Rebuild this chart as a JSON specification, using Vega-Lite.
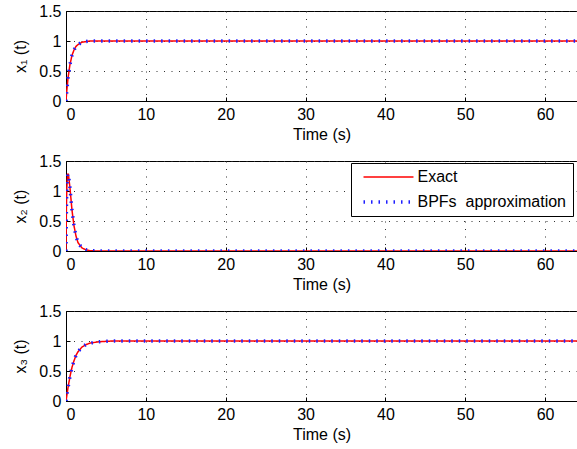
{
  "$schema": "https://vega.github.io/schema/vega-lite/v6.json",
  "padding": {"left": 12, "top": 2, "right": 0, "bottom": 5},
  "datasets": {
    "d": [
      {"k":"x1","s":"Exact","t":0,"v":0},{"k":"x1","s":"Exact","t":0.1,"v":0.17},{"k":"x1","s":"Exact","t":0.25,"v":0.38},{"k":"x1","s":"Exact","t":0.5,"v":0.61},{"k":"x1","s":"Exact","t":0.75,"v":0.76},{"k":"x1","s":"Exact","t":1,"v":0.85},{"k":"x1","s":"Exact","t":1.25,"v":0.91},{"k":"x1","s":"Exact","t":1.5,"v":0.94},{"k":"x1","s":"Exact","t":2,"v":0.98},{"k":"x1","s":"Exact","t":2.5,"v":0.99},{"k":"x1","s":"Exact","t":3,"v":1},{"k":"x1","s":"Exact","t":64,"v":1},
      {"k":"x1","s":"BPFs\u00a0 approximation","t":0,"v":0},{"k":"x1","s":"BPFs\u00a0 approximation","t":0.1,"v":0.17},{"k":"x1","s":"BPFs\u00a0 approximation","t":0.25,"v":0.38},{"k":"x1","s":"BPFs\u00a0 approximation","t":0.5,"v":0.61},{"k":"x1","s":"BPFs\u00a0 approximation","t":0.75,"v":0.76},{"k":"x1","s":"BPFs\u00a0 approximation","t":1,"v":0.85},{"k":"x1","s":"BPFs\u00a0 approximation","t":1.25,"v":0.91},{"k":"x1","s":"BPFs\u00a0 approximation","t":1.5,"v":0.94},{"k":"x1","s":"BPFs\u00a0 approximation","t":2,"v":0.98},{"k":"x1","s":"BPFs\u00a0 approximation","t":2.5,"v":0.99},{"k":"x1","s":"BPFs\u00a0 approximation","t":3,"v":1},{"k":"x1","s":"BPFs\u00a0 approximation","t":64,"v":1},
      {"k":"x2","s":"Exact","t":0,"v":0},{"k":"x2","s":"Exact","t":0.05,"v":0.7},{"k":"x2","s":"Exact","t":0.1,"v":1.05},{"k":"x2","s":"Exact","t":0.2,"v":1.28},{"k":"x2","s":"Exact","t":0.3,"v":1.28},{"k":"x2","s":"Exact","t":0.5,"v":1.05},{"k":"x2","s":"Exact","t":0.75,"v":0.68},{"k":"x2","s":"Exact","t":1,"v":0.42},{"k":"x2","s":"Exact","t":1.25,"v":0.25},{"k":"x2","s":"Exact","t":1.5,"v":0.14},{"k":"x2","s":"Exact","t":2,"v":0.05},{"k":"x2","s":"Exact","t":2.5,"v":0.02},{"k":"x2","s":"Exact","t":3,"v":0.005},{"k":"x2","s":"Exact","t":4,"v":0},{"k":"x2","s":"Exact","t":64,"v":0},
      {"k":"x2","s":"BPFs\u00a0 approximation","t":0,"v":0},{"k":"x2","s":"BPFs\u00a0 approximation","t":0.05,"v":0.7},{"k":"x2","s":"BPFs\u00a0 approximation","t":0.1,"v":1.05},{"k":"x2","s":"BPFs\u00a0 approximation","t":0.2,"v":1.28},{"k":"x2","s":"BPFs\u00a0 approximation","t":0.3,"v":1.28},{"k":"x2","s":"BPFs\u00a0 approximation","t":0.5,"v":1.05},{"k":"x2","s":"BPFs\u00a0 approximation","t":0.75,"v":0.68},{"k":"x2","s":"BPFs\u00a0 approximation","t":1,"v":0.42},{"k":"x2","s":"BPFs\u00a0 approximation","t":1.25,"v":0.25},{"k":"x2","s":"BPFs\u00a0 approximation","t":1.5,"v":0.14},{"k":"x2","s":"BPFs\u00a0 approximation","t":2,"v":0.05},{"k":"x2","s":"BPFs\u00a0 approximation","t":2.5,"v":0.02},{"k":"x2","s":"BPFs\u00a0 approximation","t":3,"v":0.005},{"k":"x2","s":"BPFs\u00a0 approximation","t":4,"v":0},{"k":"x2","s":"BPFs\u00a0 approximation","t":64,"v":0},
      {"k":"x3","s":"Exact","t":0,"v":0},{"k":"x3","s":"Exact","t":0.25,"v":0.22},{"k":"x3","s":"Exact","t":0.5,"v":0.41},{"k":"x3","s":"Exact","t":0.75,"v":0.56},{"k":"x3","s":"Exact","t":1,"v":0.67},{"k":"x3","s":"Exact","t":1.25,"v":0.76},{"k":"x3","s":"Exact","t":1.5,"v":0.82},{"k":"x3","s":"Exact","t":2,"v":0.9},{"k":"x3","s":"Exact","t":2.5,"v":0.94},{"k":"x3","s":"Exact","t":3,"v":0.965},{"k":"x3","s":"Exact","t":4,"v":0.985},{"k":"x3","s":"Exact","t":5,"v":0.995},{"k":"x3","s":"Exact","t":6,"v":1},{"k":"x3","s":"Exact","t":64,"v":1},
      {"k":"x3","s":"BPFs\u00a0 approximation","t":0,"v":0},{"k":"x3","s":"BPFs\u00a0 approximation","t":0.25,"v":0.22},{"k":"x3","s":"BPFs\u00a0 approximation","t":0.5,"v":0.41},{"k":"x3","s":"BPFs\u00a0 approximation","t":0.75,"v":0.56},{"k":"x3","s":"BPFs\u00a0 approximation","t":1,"v":0.67},{"k":"x3","s":"BPFs\u00a0 approximation","t":1.25,"v":0.76},{"k":"x3","s":"BPFs\u00a0 approximation","t":1.5,"v":0.82},{"k":"x3","s":"BPFs\u00a0 approximation","t":2,"v":0.9},{"k":"x3","s":"BPFs\u00a0 approximation","t":2.5,"v":0.94},{"k":"x3","s":"BPFs\u00a0 approximation","t":3,"v":0.965},{"k":"x3","s":"BPFs\u00a0 approximation","t":4,"v":0.985},{"k":"x3","s":"BPFs\u00a0 approximation","t":5,"v":0.995},{"k":"x3","s":"BPFs\u00a0 approximation","t":6,"v":1},{"k":"x3","s":"BPFs\u00a0 approximation","t":64,"v":1}
    ]
  },
  "spacing": 60,
  "bounds": "flush",
  "resolve": {"scale": {"color": "independent", "strokeDash": "independent", "strokeWidth": "independent"}},
  "vconcat": [
    {
      "width": 511, "height": 90,
      "data": {"name": "d"},
      "transform": [{"filter": "datum.k === 'x1'"}],
      "encoding": {
        "x": {"field": "t", "type": "quantitative", "scale": {"domain": [0, 64], "nice": false}, "axis": {"values": [0,10,20,30,40,50,60], "title": "Time (s)"}},
        "y": {"field": "v", "type": "quantitative", "scale": {"domain": [0, 1.5]}, "axis": {"values": [0,0.5,1,1.5], "format": "~g", "title": "x₁ (t)"}},
        "color": {"field": "s", "type": "nominal", "sort": null, "scale": {"domain": ["Exact", "BPFs\u00a0 approximation"], "range": ["#ff0000", "#2020ff"]}, "legend": null},
        "strokeDash": {"field": "s", "type": "nominal", "sort": null, "scale": {"domain": ["Exact", "BPFs\u00a0 approximation"], "range": [[1,0],[1.5,6]]}, "legend": null},
        "strokeWidth": {"field": "s", "type": "nominal", "sort": null, "scale": {"domain": ["Exact", "BPFs\u00a0 approximation"], "range": [1.5, 3.5]}, "legend": null}
      },
      "layer": [
        {"transform": [{"filter": "datum.s === 'Exact'"}], "mark": {"type": "line", "clip": true}},
        {"transform": [{"filter": "datum.s !== 'Exact'"}], "mark": {"type": "line", "clip": true}}
      ]
    },
    {
      "width": 511, "height": 90,
      "data": {"name": "d"},
      "transform": [{"filter": "datum.k === 'x2'"}],
      "encoding": {
        "x": {"field": "t", "type": "quantitative", "scale": {"domain": [0, 64], "nice": false}, "axis": {"values": [0,10,20,30,40,50,60], "title": "Time (s)"}},
        "y": {"field": "v", "type": "quantitative", "scale": {"domain": [0, 1.5]}, "axis": {"values": [0,0.5,1,1.5], "format": "~g", "title": "x₂ (t)"}},
        "color": {"field": "s", "type": "nominal", "sort": null, "scale": {"domain": ["Exact", "BPFs\u00a0 approximation"], "range": ["#ff0000", "#2020ff"]},
          "legend": {"orient": "none", "legendX": 285, "legendY": 2, "title": null, "strokeColor": "black", "fillColor": "white", "padding": 6, "rowPadding": 8, "labelFontSize": 16, "labelFont": "Liberation Sans", "labelColor": "black", "symbolType": "M-3.57,0H3.57", "symbolSize": 196, "symbolOffset": 22.5, "labelOffset": 20}},
        "strokeDash": {"field": "s", "type": "nominal", "sort": null, "scale": {"domain": ["Exact", "BPFs\u00a0 approximation"], "range": [[1,0],[1.5,6]]}},
        "strokeWidth": {"field": "s", "type": "nominal", "sort": null, "scale": {"domain": ["Exact", "BPFs\u00a0 approximation"], "range": [1.5, 3.5]}}
      },
      "layer": [
        {"transform": [{"filter": "datum.s === 'Exact'"}], "mark": {"type": "line", "clip": true}},
        {"transform": [{"filter": "datum.s !== 'Exact'"}], "mark": {"type": "line", "clip": true}}
      ]
    },
    {
      "width": 511, "height": 90,
      "data": {"name": "d"},
      "transform": [{"filter": "datum.k === 'x3'"}],
      "encoding": {
        "x": {"field": "t", "type": "quantitative", "scale": {"domain": [0, 64], "nice": false}, "axis": {"values": [0,10,20,30,40,50,60], "title": "Time (s)"}},
        "y": {"field": "v", "type": "quantitative", "scale": {"domain": [0, 1.5]}, "axis": {"values": [0,0.5,1,1.5], "format": "~g", "title": "x₃ (t)"}},
        "color": {"field": "s", "type": "nominal", "sort": null, "scale": {"domain": ["Exact", "BPFs\u00a0 approximation"], "range": ["#ff0000", "#2020ff"]}, "legend": null},
        "strokeDash": {"field": "s", "type": "nominal", "sort": null, "scale": {"domain": ["Exact", "BPFs\u00a0 approximation"], "range": [[1,0],[1.5,6]]}, "legend": null},
        "strokeWidth": {"field": "s", "type": "nominal", "sort": null, "scale": {"domain": ["Exact", "BPFs\u00a0 approximation"], "range": [1.5, 3.5]}, "legend": null}
      },
      "layer": [
        {"transform": [{"filter": "datum.s === 'Exact'"}], "mark": {"type": "line", "clip": true}},
        {"transform": [{"filter": "datum.s !== 'Exact'"}], "mark": {"type": "line", "clip": true}}
      ]
    }
  ],
  "config": {
    "view": {"stroke": "black", "strokeWidth": 1},
    "axis": {
      "domainColor": "black", "tickColor": "black", "labelColor": "black", "titleColor": "black",
      "labelFont": "Liberation Sans", "titleFont": "Liberation Sans", "labelFontSize": 16, "titleFontSize": 16, "titleFontWeight": "normal",
      "grid": true, "gridColor": "#333333", "gridDash": [1, 6.5], "gridOpacity": 1, "tickSize": -4
    },
    "axisX": {"labelPadding": 9, "titlePadding": 4},
    "axisY": {"labelPadding": 9, "titlePadding": 10}
  }
}
